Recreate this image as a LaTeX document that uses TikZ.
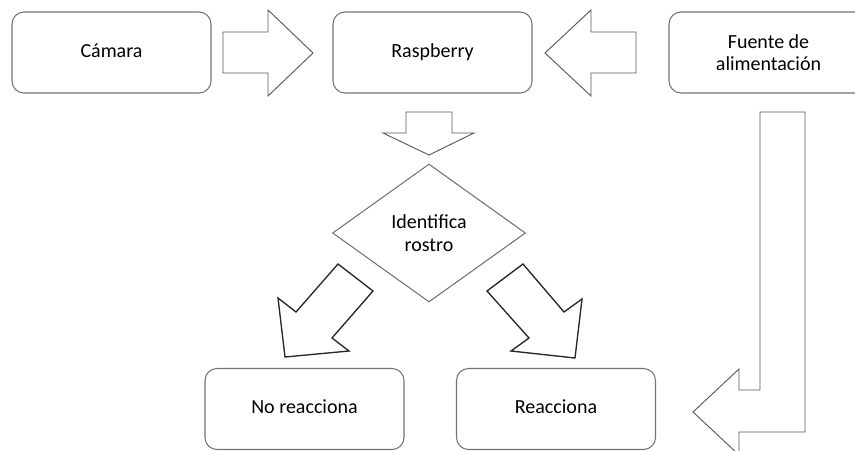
\documentclass[tikz,border=0pt]{standalone}
\usepackage{fontspec}
\setmainfont{Carlito}
\usetikzlibrary{shapes.geometric}

\begin{document}
\begin{tikzpicture}[x=0.75pt, y=-0.75pt,
    box/.style={draw=black!55, line width=0.8pt, rounded corners=9pt,
                minimum width=149.25pt, minimum height=60.75pt,
                align=center, font=\fontsize{15}{17}\selectfont},
    oneline/.style={text height=10pt, text depth=3pt},
    blockarrow/.style={draw=black!65, line width=0.7pt, line join=miter},
    diagarrow/.style={draw=black!85, line width=1pt, line join=miter}]
  \useasboundingbox (0, 0) rectangle (855, 450);
  \clip (0, 0) rectangle (855, 450);
  \node [box, oneline] (cam) at (111.5, 52.5) {Cámara};
  \node [box, oneline] (rasp) at (432.5, 52.5) {Raspberry};
  \node [box] (fuente) at (768.5, 52.5) {Fuente de\\alimentación};
  \node [draw=black!55, line width=0.8pt, diamond, inner sep=0pt,
         minimum width=144.75pt, minimum height=103.5pt, align=center,
         font=\fontsize{15}{17}\selectfont] (ident) at (429, 233) {Identifica\\rostro};
  \node [box, oneline] (noreac) at (304.5, 409) {No reacciona};
  \node [box, oneline] (reac) at (556, 409) {Reacciona};

  \draw [blockarrow] (223, 32) -- (268, 32) -- (268, 10) -- (313, 53)
                     -- (268, 96) -- (268, 73) -- (223, 73) -- cycle;
  \draw [blockarrow] (636, 32) -- (591, 32) -- (591, 10) -- (545, 53)
                     -- (591, 96) -- (591, 73) -- (636, 73) -- cycle;
  \draw [blockarrow] (406, 112) -- (452, 112) -- (452, 133) -- (474, 133)
                     -- (429, 155) -- (383, 133) -- (406, 133) -- cycle;
  \draw [diagarrow] (338, 264) -- (373, 291) -- (332, 338) -- (349, 351)
                    -- (285, 357) -- (278, 298) -- (296, 312) -- cycle;
  \draw [diagarrow] (523, 264) -- (564, 312) -- (582, 299) -- (575, 358)
                    -- (511, 351) -- (529, 338) -- (487, 291) -- cycle;
  \draw [blockarrow] (760, 112) -- (805, 112) -- (805, 432) -- (739, 432)
                     -- (739, 455) -- (693, 412) -- (739, 369) -- (739, 390)
                     -- (760, 390) -- cycle;
\end{tikzpicture}
\end{document}
